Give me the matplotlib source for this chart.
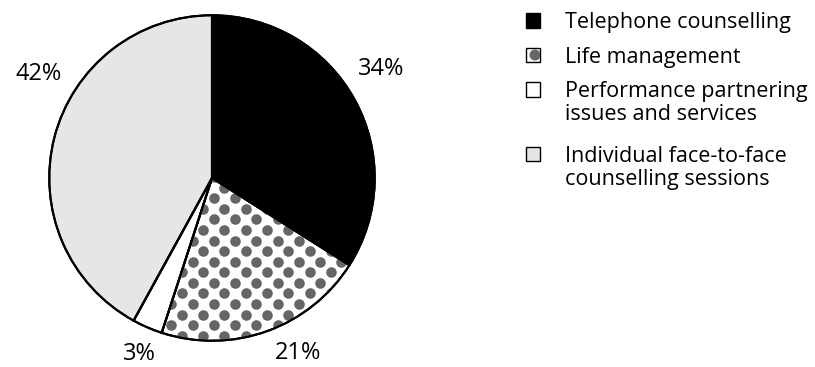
import numpy as np
import matplotlib.pyplot as plt
from matplotlib.patches import Rectangle, Circle

plt.rcParams['font.family'] = ['Open Sans', 'DejaVu Sans']

# data
labels = ["Telephone counselling", "Life management",
          "Performance partnering\nissues and services",
          "Individual face-to-face\ncounselling sessions"]
shares = [34, 21, 3, 42]
colors = ["#000000", "#ffffff", "#ffffff", "#e6e6e6"]
dot_color = "#666666"

# label nudges (degrees off the slice middle) and distance
label_shift = [4, 6.5, 1, -16.5]
label_dist = [1.235, 1.2, 1.17, 1.245]

W, H = 815, 367
fig = plt.figure(figsize=(W / 100, H / 100), dpi=100)
cx, cy, r = 212, 178, 166
ax = fig.add_axes([(cx - r) / W, (H - cy - r) / H, 2 * r / W, 2 * r / H])

wedges, _ = ax.pie(shares, colors=colors, startangle=90, counterclock=False,
                   wedgeprops=dict(edgecolor="black", linewidth=1.5))

# dotted fill for life management
dx, dy = 21.7 / r, 10.8 / r
pts = []
for j, yy in enumerate(np.arange(-1.1, 1.1, dy)):
    off = 0 if j % 2 == 0 else dx / 2
    for xx in np.arange(-1.1 + off, 1.1, dx):
        pts.append((xx, yy))
pts = np.array(pts)
dots = ax.scatter(pts[:, 0], pts[:, 1], s=58, color=dot_color, linewidths=0, zorder=3)
dots.set_clip_path(wedges[1])
outline, _ = ax.pie(shares, startangle=90, counterclock=False,
                    wedgeprops=dict(edgecolor="black", linewidth=1.5, fill=False))
for w in outline:
    w.set_zorder(4)
ax.set_xlim(-1.02, 1.02)
ax.set_ylim(-1.02, 1.02)
ax.set_aspect("equal")
ax.axis("off")

for w, val, sh, d in zip(wedges, shares, label_shift, label_dist):
    mid = np.deg2rad((w.theta1 + w.theta2) / 2 + sh)
    ax.text(d * np.cos(mid), d * np.sin(mid), f"{val}%", ha="center", va="center",
            fontsize=17)

# legend, drawn by hand so the box sits on the first line of each entry
tr = fig.dpi_scale_trans
box = 14
base = 28
line_h = 23.5
for i, (lab, col) in enumerate(zip(labels, colors)):
    lines = lab.split("\n")
    for k, ln in enumerate(lines):
        fig.text(565 / W, 1 - (base + k * line_h) / H, ln, ha="left", va="baseline",
                 fontsize=15.5)
    yc = (H - base + 7.5) / 100
    sq = Rectangle((526 / 100, yc - box / 200), box / 100, box / 100,
                   facecolor=col, edgecolor="black", linewidth=1.0, transform=tr)
    fig.add_artist(sq)
    if i == 1:
        c = Circle((535 / 100, yc), 5.5 / 100, facecolor=dot_color, edgecolor="none",
                   transform=tr)
        fig.add_artist(c)
        c.set_clip_path(sq)
    base += 34.5 + (len(lines) - 1) * 30.5

fig.savefig("out.png", dpi=100)
